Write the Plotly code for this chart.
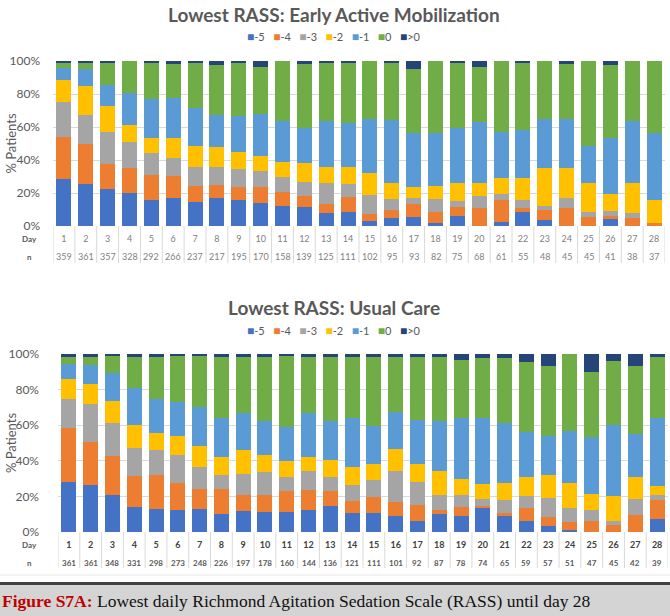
import plotly.graph_objects as go

days = [str(d) for d in range(1, 29)]
categories = ["-5", "-4", "-3", "-2", "-1", "0", ">0"]
colors = ["#4472C4", "#ED7D31", "#A5A5A5", "#FFC000", "#5B9BD5", "#70AD47", "#264478"]

n_eam = [359, 361, 357, 328, 292, 266, 237, 217, 195, 170, 158, 139, 125, 111,
         102, 95, 93, 82, 75, 68, 61, 55, 48, 45, 45, 41, 38, 37]
n_uc = [361, 361, 348, 331, 298, 273, 248, 226, 197, 178, 160, 144, 136, 121,
        111, 101, 92, 87, 78, 74, 65, 59, 57, 51, 47, 45, 42, 39]

# Early Active Mobilization (% per day)
eam_m5 = [28.5, 25.5, 22.4, 20.2, 15.8, 17.2, 14.7, 17.2, 15.8, 14.1, 12.1, 11.7, 7.7, 8.3,
          3.2, 4.6, 5.7, 1.6, 6.1, 0, 2.6, 8.3, 3.6, 0, 0, 4.2, 0, 0]
eam_m4 = [25.2, 24.0, 15.2, 15.2, 15.1, 13.3, 9.5, 7.9, 8.0, 9.7, 8.7, 6.7, 5.4, 9.5,
          4.1, 5.1, 7.6, 7.1, 5.2, 11.1, 13.2, 2.4, 6.1, 10.7, 5.7, 2.1, 4.6, 2.0]
eam_m3 = [21.7, 17.8, 19.2, 15.7, 13.5, 10.9, 11.4, 10.9, 10.5, 9.7, 9.1, 8.5, 12.8, 7.7,
          11.5, 6.5, 3.5, 7.7, 4.1, 7.3, 3.4, 5.1, 2.4, 6.5, 2.6, 2.8, 3.1, 0]
eam_m2 = [13.1, 17.5, 16.1, 10.1, 8.7, 11.7, 13.1, 12.1, 10.8, 8.9, 9.1, 11.1, 10.1, 10.5,
          13.1, 9.7, 6.6, 7.8, 10.9, 7.9, 10.1, 13.1, 23.3, 18.2, 18.0, 10.1, 18.6, 13.8]
eam_m1 = [7.1, 10.4, 12.8, 19.6, 23.7, 24.3, 23.0, 19.2, 21.8, 25.3, 24.6, 21.6, 27.8, 26.2,
          32.7, 38.3, 32.8, 32.0, 33.3, 36.9, 27.9, 29.3, 29.2, 29.2, 22.4, 34.3, 37.3, 40.8]
eam_0 = [3.6, 4.0, 13.5, 19.2, 22.2, 20.6, 26.9, 30.3, 32.3, 28.9, 36.4, 38.6, 34.8, 36.4,
         35.4, 35.0, 38.7, 43.8, 39.6, 33.0, 42.8, 40.4, 35.4, 33.4, 51.3, 44.1, 36.4, 43.4]
eam_p = [0.8, 0.8, 0.8, 0, 1.0, 2.0, 1.4, 2.4, 0.8, 3.4, 0, 1.8, 1.4, 1.4,
         0, 0.8, 5.1, 0, 0.8, 3.8, 0, 1.4, 0, 2.0, 0, 2.4, 0, 0]

# Usual Care (% per day)
uc_m5 = [28.0, 26.2, 20.6, 13.8, 12.9, 12.5, 13.1, 10.1, 11.6, 11.0, 11.0, 12.1, 14.4, 10.7,
         10.7, 8.8, 6.4, 10.1, 8.8, 13.5, 8.8, 6.4, 3.2, 1.3, 0, 0, 0, 7.5]
uc_m4 = [30.3, 24.6, 22.2, 17.8, 18.9, 15.0, 11.0, 14.0, 9.3, 9.6, 12.2, 11.6, 8.8, 6.5,
         8.9, 7.8, 8.9, 2.4, 5.2, 1.3, 1.9, 7.1, 5.2, 4.1, 6.0, 4.1, 9.3, 10.3]
uc_m3 = [16.3, 21.0, 18.7, 15.5, 14.4, 15.9, 12.2, 8.0, 11.6, 12.9, 7.5, 10.7, 7.5, 9.0,
         9.7, 17.8, 12.6, 8.1, 6.6, 3.7, 7.4, 6.5, 10.7, 8.1, 6.5, 2.3, 9.4, 2.8]
uc_m2 = [11.6, 11.2, 12.1, 13.1, 9.3, 10.6, 12.1, 10.3, 13.3, 9.5, 9.3, 7.5, 9.9, 10.2,
         9.0, 12.1, 10.2, 13.8, 9.1, 8.4, 9.4, 10.7, 12.7, 14.0, 8.8, 13.6, 12.1, 5.0]
uc_m1 = [8.0, 10.8, 15.6, 20.9, 19.1, 18.9, 22.1, 21.9, 20.9, 19.6, 18.9, 24.8, 22.0, 27.5,
         21.0, 20.8, 24.9, 28.0, 34.6, 37.0, 34.0, 25.4, 22.4, 29.5, 32.0, 40.2, 24.2, 38.7]
uc_0 = [4.3, 4.7, 9.9, 17.0, 23.5, 26.0, 28.4, 33.8, 31.4, 35.9, 40.2, 31.8, 35.5, 34.6,
        39.2, 31.2, 35.5, 36.1, 32.3, 34.0, 36.1, 39.2, 39.3, 43.0, 36.4, 35.9, 38.3, 33.8]
uc_p = [1.5, 1.5, 0.9, 1.9, 1.9, 1.1, 1.1, 1.9, 1.9, 1.5, 0.9, 1.5, 1.9, 1.5,
        1.5, 1.5, 1.5, 1.5, 3.4, 2.1, 2.4, 4.7, 6.5, 0, 10.3, 3.9, 6.7, 1.9]

eam_series = [eam_m5, eam_m4, eam_m3, eam_m2, eam_m1, eam_0, eam_p]
uc_series = [uc_m5, uc_m4, uc_m3, uc_m2, uc_m1, uc_0, uc_p]

H = 616.0
W = 670.0
def py(px):
    return 1 - px / H
def pxx(px):
    return px / W

GRAY = "#595959"
FONT = "Lato"

fig = go.Figure()
for cat, col, vals in zip(categories, colors, eam_series):
    fig.add_trace(go.Bar(x=days, y=vals, name=cat, marker=dict(color=col, line=dict(width=0)),
                         xaxis="x", yaxis="y", showlegend=False))
for cat, col, vals in zip(categories, colors, uc_series):
    fig.add_trace(go.Bar(x=days, y=vals, name=cat, marker=dict(color=col, line=dict(width=0)),
                         xaxis="x2", yaxis="y2", showlegend=False))

# panel geometry (pixels)
top_y0, top_y1 = 226, 61
bot_y0, bot_y1 = 532, 354
top_x0, top_x1 = 53, 665
bot_x0, bot_x1 = 58, 668

yax = dict(range=[0, 100], dtick=20, ticksuffix="%", showgrid=True, gridcolor="#d9d9d9",
           gridwidth=1, zeroline=False, showline=False, automargin=False,
           tickfont=dict(family=FONT, size=12, color=GRAY))
xax = dict(type="category", showgrid=False, zeroline=False, showline=False, ticks="",
           range=[-0.5, 27.5], automargin=False)

fig.update_layout(
    width=670, height=616, margin=dict(l=0, r=0, t=0, b=0),
    paper_bgcolor="white", plot_bgcolor="white",
    barmode="stack", barnorm="percent", bargap=0.31,
    font=dict(family=FONT, color=GRAY),
    xaxis=dict(xax, domain=[pxx(top_x0), pxx(top_x1)], anchor="y",
               tickfont=dict(family=FONT, size=9, color="#7f7f7f"), ticklabelstandoff=6),
    yaxis=dict(yax, domain=[py(top_y0), py(top_y1)], anchor="x", ticklabelstandoff=12),
    xaxis2=dict(xax, domain=[pxx(bot_x0), pxx(bot_x1)], anchor="y2",
                tickfont=dict(family=FONT, size=9, color="#404040", weight="bold"),
                ticklabelstandoff=6),
    yaxis2=dict(yax, domain=[py(bot_y0), py(bot_y1)], anchor="x2", ticklabelstandoff=18),
)

shapes = []
# table cell borders
for xr, ya, yb in [("x", top_y0, 263), ("x2", bot_y0, 568)]:
    for i in range(29):
        shapes.append(dict(type="line", xref=xr, yref="paper", x0=i - 0.5, x1=i - 0.5,
                           y0=py(ya), y1=py(yb), line=dict(color="#d9d9d9", width=1)))
# faint frame line under lower chart
shapes.append(dict(type="line", xref="paper", yref="paper", x0=0, x1=1, y0=py(575), y1=py(575),
                   line=dict(color="#e6e6e6", width=1)))
# caption band
shapes.append(dict(type="rect", xref="paper", yref="paper", x0=0, x1=1, y0=py(616), y1=py(585),
                   fillcolor="#d4d4d4", line=dict(width=0), layer="below"))
shapes.append(dict(type="rect", xref="paper", yref="paper", x0=0, x1=1, y0=py(585), y1=py(582),
                   fillcolor="#404040", line=dict(width=0)))
fig.update_layout(shapes=shapes)

ann = []
def legend_text():
    parts = []
    for cat, col in zip(categories, colors):
        parts.append(f'<span style="color:{col};font-size:12px">■</span>{cat}')
    return "   ".join(parts)

for title, ty, ly in [("Lowest RASS: Early Active Mobilization", 15, 37),
                      ("Lowest RASS: Usual Care", 307, 330)]:
    ann.append(dict(text=f"<b>{title}</b>", x=pxx(334), y=py(ty), xref="paper", yref="paper",
                    showarrow=False, xanchor="center", yanchor="middle",
                    font=dict(family=FONT, size=19, color=GRAY)))
    ann.append(dict(text=legend_text(), x=pxx(334), y=py(ly), xref="paper", yref="paper",
                    showarrow=False, xanchor="center", yanchor="middle",
                    font=dict(family=FONT, size=11, color=GRAY)))

for cy, xpos in [((top_y0 + top_y1) / 2, 11), ((bot_y0 + bot_y1) / 2, 11)]:
    ann.append(dict(text="% Patients", x=pxx(xpos), y=py(cy), xref="paper", yref="paper",
                    showarrow=False, textangle=-90, xanchor="center", yanchor="middle",
                    font=dict(family=FONT, size=13, color=GRAY)))

# row labels
for lbl, yy in [("Day", 239), ("n", 257), ("Day", 545), ("n", 563)]:
    ann.append(dict(text=f"<b>{lbl}</b>", x=pxx(29), y=py(yy), xref="paper", yref="paper",
                    showarrow=False, xanchor="center", yanchor="middle",
                    font=dict(family=FONT, size=8, color=GRAY)))

# n rows
for i, n in enumerate(n_eam):
    ann.append(dict(text=str(n), x=i, xref="x", y=py(257), yref="paper", showarrow=False,
                    xanchor="center", yanchor="middle",
                    font=dict(family=FONT, size=9, color="#7f7f7f")))
for i, n in enumerate(n_uc):
    ann.append(dict(text=f"<b>{n}</b>", x=i, xref="x2", y=py(563), yref="paper", showarrow=False,
                    xanchor="center", yanchor="middle",
                    font=dict(family=FONT, size=8, color=GRAY)))

ann.append(dict(text='<b><span style="color:#c00000">Figure S7A:</span></b> Lowest daily Richmond Agitation Sedation Scale (RASS) until day 28',
                x=0, y=py(601), xref="paper", yref="paper", showarrow=False,
                xanchor="left", yanchor="middle",
                font=dict(family="Liberation Serif", size=17.5, color="#111111")))

fig.update_layout(annotations=ann)
fig.write_html("out.html", config={"displayModeBar": False},
               post_script="document.body.style.margin='0';document.body.style.overflow='hidden';")
